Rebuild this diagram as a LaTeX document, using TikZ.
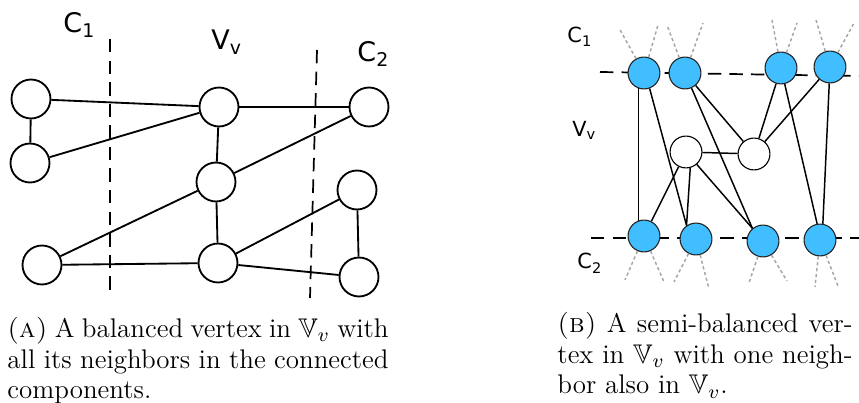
\documentclass[tikz,border=0pt]{standalone}
\usepackage{amsmath,amssymb}
\usepackage{fontspec}
\newfontfamily\labfont{DejaVu Sans}
\definecolor{nodeblue}{RGB}{64,190,255}

\begin{document}
\begin{tikzpicture}[x=0.408pt, y=-0.408pt,
    vtx/.style={draw, circle, line width=0.75pt, minimum size=15.9pt, inner sep=0pt, fill=white},
    cvtx/.style={draw=black!85, circle, line width=0.45pt, minimum size=13pt, inner sep=0pt, fill=nodeblue},
    wvtx/.style={cvtx, fill=white, draw=black},
    link/.style={line width=0.75pt},
    slink/.style={line width=0.6pt},
    cut/.style={line width=0.7pt, dash pattern=on 5.5pt off 3.3pt},
    ext/.style={draw=black!35, line width=0.6pt, dash pattern=on 1.3pt off 1.1pt},
    lab/.style={font=\labfont\fontsize{11}{13}\selectfont, inner sep=0pt, anchor=base west},
    slab/.style={lab, font=\labfont\fontsize{8.5}{10}\selectfont},
    capt/.style={anchor=north west, inner sep=0pt, align=justify, font=\fontsize{11}{12.5}\selectfont}
]
\useasboundingbox (0,0) rectangle (859,403);

% (a) balanced vertex
\draw[cut] (110,39) -- (110,292);
\draw[cut] (317,50) -- (310,298);
\node[lab] (c1a) at (63,33) {C\textsubscript{1}};
\node[lab] (vva) at (211,50) {V\textsubscript{v}};
\node[lab] (c2a) at (357,62) {C\textsubscript{2}};

\node[vtx] (a1) at (31,99) {};
\node[vtx] (a2) at (30,163) {};
\node[vtx] (a3) at (42,265) {};
\node[vtx] (v1) at (219,107) {};
\node[vtx] (v2) at (216,182) {};
\node[vtx] (v3) at (218,263) {};
\node[vtx] (b1) at (369,107) {};
\node[vtx] (b2) at (357,190) {};
\node[vtx] (b3) at (359,277) {};

\draw[link] (a1) -- (v1);
\draw[link] (a1) -- (a2);
\draw[link] (a2) -- (v1);
\draw[link] (v1) -- (v2);
\draw[link] (v1) -- (b1);
\draw[link] (b1) -- (v2);
\draw[link] (v2) -- (a3);
\draw[link] (v2) -- (v3);
\draw[link] (a3) -- (v3);
\draw[link] (v3) -- (b2);
\draw[link] (v3) -- (b3);
\draw[link] (b2) -- (b3);

% (b) semi-balanced vertex
\draw[cut] (600,72) -- (859,76);
\draw[cut] (591,238) -- (859,238);
\node[slab] (c1b) at (567,43) {C\textsubscript{1}};
\node[slab] (vvb) at (572,137) {V\textsubscript{v}};
\node[slab] (c2b) at (577,269) {C\textsubscript{2}};

\node[cvtx] (t1) at (644,73) {};
\node[cvtx] (t2) at (685,73) {};
\node[cvtx] (t3) at (781,68) {};
\node[cvtx] (t4) at (830,67) {};
\node[wvtx] (w1) at (686,152) {};
\node[wvtx] (w2) at (754,154) {};
\node[cvtx] (s1) at (644,236) {};
\node[cvtx] (s2) at (696,239) {};
\node[cvtx] (s3) at (763,241) {};
\node[cvtx] (s4) at (820,240) {};

% edges leaving the picture
\draw[ext] (t1) -- ++(-25,-45);  \draw[ext] (t1) -- ++(14,-48);
\draw[ext] (t2) -- ++(-18,-48);  \draw[ext] (t2) -- ++(18,-50);
\draw[ext] (t3) -- ++(-9,-48);   \draw[ext] (t3) -- ++(16,-45);
\draw[ext] (t4) -- ++(-14,-47);  \draw[ext] (t4) -- ++(24,-44);
\draw[ext] (s1) -- ++(-19,44);   \draw[ext] (s1) -- ++(20,46);
\draw[ext] (s2) -- ++(-22,43);   \draw[ext] (s2) -- ++(13,50);
\draw[ext] (s3) -- ++(-14,42);   \draw[ext] (s3) -- ++(24,40);
\draw[ext] (s4) -- ++(-5,47);    \draw[ext] (s4) -- ++(18,46);

\draw[slink] (t1.250) -- (s1.110);
\draw[slink] (t1.290) -- (s2.125);
\draw[slink] (t2) -- (s3.130);
\draw[slink] (t2) -- (w2);
\draw[slink] (t3) -- (w2);
\draw[slink] (t4) -- (w2);
\draw[slink] (t3) -- (s4.100);
\draw[slink] (t4) -- (s4.80);
\draw[slink] (w1) -- (w2);
\draw[slink] (w1) -- (s1);
\draw[slink] (w1.285) -- (s2.125);
\draw[slink] (w1) -- (s3.130);

% captions
\node[capt, text width=155.5pt] (capa) at (7,317)
  {\textsc{(a)} A balanced vertex in $\mathbb{V}_v$ with\linebreak all its neighbors in the connected\linebreak components.};
\node[capt, text width=120.4pt] (capb) at (557,312)
  {\textsc{(b)} A semi-balanced ver-\linebreak tex in $\mathbb{V}_v$ with one neigh-\linebreak bor also in $\mathbb{V}_v$.};
\end{tikzpicture}
\end{document}
